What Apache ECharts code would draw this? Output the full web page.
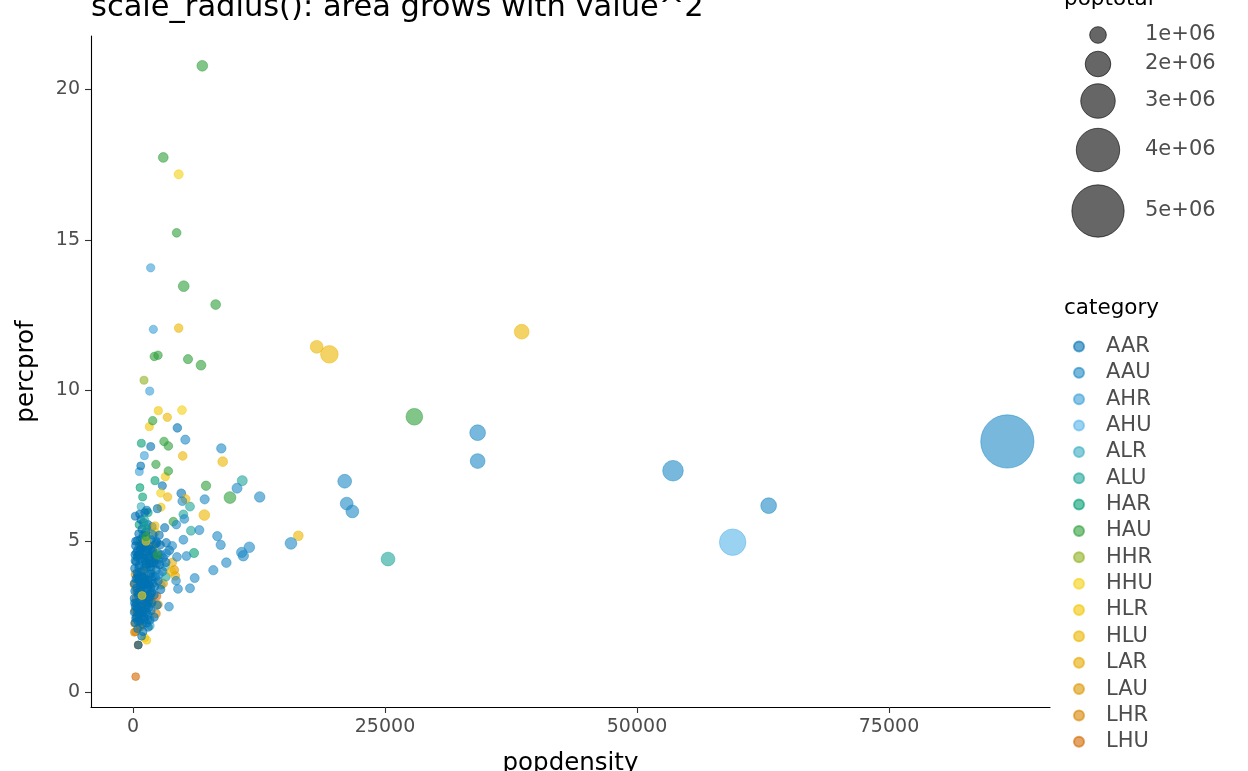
<!DOCTYPE html>
<html>
<head>
<meta charset="utf-8">
<script src="https://cdn.jsdelivr.net/npm/echarts@6/dist/echarts.min.js"></script>
<style>html,body{margin:0;padding:0;background:#fff;}#c{width:1248px;height:771px;}</style>
</head>
<body>
<div id="c"></div>
<script>
// ---- data: [popdensity, percprof, poptotal] ----
const categories = ['AAR','AAU','AHR','AHU','ALR','ALU','HAR','HAU','HHR','HHU','HLR','HLU','LAR','LAU','LHR','LHU'];
const palette = ['#0072B2','#1D88C4','#399ED7','#56B4E9','#39ADC2','#1DA59A','#009E73','#2F9E3A','#8FB020','#F4D010','#F2C400','#EDB500','#E6A800','#DC9600','#D88400','#D26800'];

const AAR = [
 [764,7.50,20000],[1756,8.14,30000],[2910,6.84,50000],[4790,6.59,120000],[4400,8.76,90000],
 [232,5.83,30000],[1356,6.03,25000],[2414,6.08,40000],[1160,5.95,22000],[650,5.90,18000],
 [1050,5.62,28000],[1480,5.55,35000],[880,5.40,21000],[1900,5.48,33000],[3144,5.45,60000],[560,5.25,16000],[1250,5.30,24000],[2600,5.20,45000],[780,5.72,19000],
 [420,5.02,20000],[900,5.10,26000],[1350,4.98,30000],[1800,5.05,42000],[2250,4.92,55000],[650,4.85,17000],[1100,4.90,23000],[1600,4.83,31000],[2700,4.88,70000],[3300,4.95,90000],[250,5.00,15000],[2000,5.20,38000],
 [180,4.55,14000],[450,4.70,18000],[700,4.40,20000],[950,4.62,22000],[1200,4.35,25000],[1450,4.75,27000],[1700,4.50,33000],[1950,4.68,36000],[2200,4.42,48000],[2500,4.60,52000],[3000,4.45,75000],[3600,4.70,120000],[300,4.32,15000],[820,4.78,19000],[1330,4.52,26000],[2100,4.30,40000],
 [150,4.10,13000],[380,3.95,16000],[600,4.20,18000],[850,3.85,21000],[1050,4.05,23000],[1300,4.25,26000],[1550,3.90,29000],[1750,4.15,32000],[2000,3.82,37000],[2300,4.05,46000],[2650,4.22,58000],[500,3.88,17000],[1150,3.80,24000],[1900,4.28,35000],[2950,4.00,80000],
 [120,3.60,12000],[350,3.45,15000],[560,3.72,17000],[780,3.35,19000],[1000,3.55,22000],[1230,3.75,25000],[1420,3.40,27000],[1650,3.62,30000],[1880,3.30,34000],[2150,3.50,42000],[2500,3.68,55000],[420,3.78,16000],[900,3.50,20000],[1320,3.58,26000],[1750,3.45,31000],[2750,3.40,62000],
 [100,3.10,11000],[300,2.95,14000],[520,3.20,16000],[740,2.85,18000],[960,3.05,21000],[1180,3.25,24000],[1400,2.90,26000],[1620,3.15,29000],[1850,2.95,33000],[2100,3.22,40000],[660,3.00,17000],[1300,3.10,25000],[2400,2.88,50000],
 [110,2.65,11000],[330,2.50,14000],[550,2.75,16000],[780,2.45,18000],[1000,2.62,21000],[1250,2.78,24000],[1500,2.55,27000],[1800,2.70,32000],[2100,2.48,38000],[420,2.70,15000],
 [200,2.30,12000],[450,2.10,15000],[700,2.35,17000],[1000,2.00,20000],[1350,2.28,25000],[1690,2.39,30000],[1520,2.15,28000],[850,1.85,18000],[526,1.56,14000],
 [240,4.85,14000],[160,3.35,12000],[210,2.85,13000],[620,4.55,18000],[1080,4.45,23000],[1620,4.25,30000],[820,3.65,19000],[1480,3.70,28000],[680,2.62,17000],[1120,2.40,24000],
 [330,4.62,15000],[560,4.12,17000],[760,3.98,19000],[980,3.78,21000],[1220,3.62,24000],[1380,4.15,26000],[1580,3.55,29000],[1820,3.92,33000],[2050,4.55,38000],[2350,4.25,47000],
 [280,3.75,14000],[470,3.30,16000],[690,3.55,18000],[910,3.22,20000],[1130,2.95,23000],[1360,3.40,26000],[1560,3.00,28000],[1760,3.25,31000],[1980,3.60,36000],[2250,3.80,44000],
 [190,4.35,13000],[390,4.48,16000],[720,4.70,19000],[1020,4.80,22000],[1270,4.65,25000],[1550,4.45,29000],[1780,4.72,32000],[2400,4.95,50000],[2800,4.55,65000],[3250,4.30,85000],
 [140,2.95,12000],[360,2.80,15000],[600,2.55,17000],[870,2.70,20000],[1100,2.50,23000],[1330,2.65,25000],[1580,2.80,29000],[250,2.45,13000],[480,2.35,15000],[930,2.25,20000]
];
const AAU = [
 [5190,8.37,150000],[8760,8.08,180000],[8360,5.17,160000],[8700,4.88,170000],[10320,6.76,250000],[12570,6.47,300000],
 [10780,4.63,280000],[10940,4.52,300000],[11540,4.80,320000],[9260,4.29,200000],[7970,4.04,170000],[6120,3.78,140000],
 [5655,3.44,130000],[4270,3.69,110000],[4465,3.42,120000],[3571,2.83,100000],[6580,5.37,150000],[7110,6.39,160000],
 [4893,6.33,120000],[5093,5.74,120000],[4300,5.55,100000],[3300,4.60,90000],[5300,4.51,120000],[4360,4.48,110000],
 [3900,4.85,95000],[2600,3.90,70000],[5000,5.05,120000],
 [15670,4.93,440000],[21000,6.99,670000],[21200,6.25,560000],[21760,5.99,560000],[34190,8.60,890000],[34190,7.66,780000],
 [53570,7.34,1440000],[63060,6.18,890000],[86740,8.31,5105067]
];
const AHR = [[1754,14.07,60000],[2017,12.03,50000],[1657,9.98,40000],[1125,7.84,30000],[625,7.31,25000],[1200,4.80,30000],[800,3.60,25000],[2300,5.00,40000],[500,2.90,20000],[1500,2.40,30000]];
const AHU = [[59490,4.97,2100000]];
const ALR = [[794,6.15,20000],[1300,5.30,25000],[900,4.35,22000],[1800,4.05,30000],[600,3.70,18000],[2200,3.85,40000],[1100,3.20,24000],[1500,2.95,28000],[2500,4.40,45000],[400,2.60,15000],[1700,2.20,28000],[1900,4.75,32000],[700,5.05,20000],[2800,3.55,55000],[1000,2.70,22000],[3200,4.15,70000]];
const ALU = [[25300,4.41,670000],[10840,7.01,250000],[5655,6.15,130000],[4993,5.89,120000],[5754,5.35,140000],[3270,3.82,90000],[1160,5.70,30000],[1220,5.48,30000]];
const HAR = [[827,8.25,25000],[2182,7.01,40000],[690,6.78,20000],[956,6.47,25000],[600,5.55,22000],[1000,5.20,24000],[500,4.55,18000],[526,3.82,18000],[800,4.90,20000],[1500,5.95,30000],[6050,4.61,160000],[1300,4.20,25000],[700,3.40,20000]];
const HAU = [[6875,20.77,330000],[3006,17.73,220000],[4330,15.23,100000],[5030,13.46,330000],[8200,12.85,220000],[2113,11.13,80000],[2480,11.17,80000],[5456,11.04,150000],[6746,10.84,220000],[1954,9.00,80000],[3075,8.31,90000],[3505,8.16,100000],[2272,7.55,70000],[3505,7.33,90000],[7242,6.84,180000],[9620,6.45,450000],[4000,5.65,100000],[27910,9.13,1000000],[1300,5.15,30000],[2400,4.55,50000]];
const HHR = [[1091,10.34,30000],[1400,5.40,30000],[900,4.95,25000],[1700,3.10,30000],[600,2.55,18000],[1100,3.70,25000],[2000,4.40,35000],[700,2.15,18000]];
const HHU = [[4530,17.17,150000],[4860,9.35,120000],[2748,6.60,50000],[1300,5.00,30000],[900,3.20,20000]];
const HLR = [[1620,8.80,30000],[3206,7.14,60000],[2510,9.33,45000],[2778,6.13,50000],[1800,4.45,30000],[1000,2.85,20000],[1360,1.72,25000],[1150,1.80,24000],[600,2.45,18000],[2200,5.30,40000]];
const HLU = [[4530,12.07,100000],[4930,7.83,110000],[8900,7.64,220000],[7077,5.87,330000],[5218,6.40,120000],[2182,5.51,40000],[3442,6.47,70000],[16400,5.18,220000],[3403,9.11,70000],[3800,4.00,100000],[18220,11.45,560000],[19480,11.20,1100000],[38560,11.95,780000]];
const LAR = [[3900,4.30,110000],[4200,3.85,100000],[2100,4.85,40000],[1000,4.00,22000]];
const LAU = [[3000,3.60,80000],[2500,2.90,60000],[4100,4.05,100000]];
const LHR = [[90,3.57,8000],[150,2.28,9000],[250,2.00,10000],[180,2.70,9000],[300,3.10,11000],[130,1.98,8000],[500,1.56,12000],[200,3.90,10000],[400,2.45,12000],[350,3.35,11000],[1900,3.00,30000],[2300,2.60,45000],[700,2.20,15000]];
const LHU = [[265,0.51,10000],[526,1.56,14000],[2350,3.18,45000]];

const xTicks = [0, 25000, 50000, 75000];
const yTicks = [0, 5, 10, 15, 20];
const sizeBreaks = [1000000, 2000000, 3000000, 4000000, 5000000];
const sizeLabels = ['1e+06', '2e+06', '3e+06', '4e+06', '5e+06'];

const dataByCat = {AAR,AAU,AHR,AHU,ALR,ALU,HAR,HAU,HHR,HHU,HLR,HLU,LAR,LAU,LHR,LHU};

// ---- styling / layout ----
const FONT = 'DejaVu Sans';
function sizeOf(pop){ return 7.8 + 8.9e-6 * pop; }
function rgba(hex, a){
  const n = parseInt(hex.slice(1), 16);
  return 'rgba(' + ((n>>16)&255) + ',' + ((n>>8)&255) + ',' + (n&255) + ',' + a + ')';
}
const sizeKeyY = [35, 64, 101, 150, 211];
const sizeKeyX = 1098;
// drawing order: rural dark-blue counties drawn over most others, as in the reference core
const drawOrder = ['AHR','ALR','HAR','HHR','HLR','LAR','LAU','LHR','LHU','AAR','ALU','HHU','HLU','HAU','AAU','AHU'];

const series = drawOrder.map(c => {
  const i = categories.indexOf(c);
  return {
    name: c,
    type: 'scatter',
    data: dataByCat[c],
    symbol: 'circle',
    symbolSize: v => sizeOf(v[2]),
    itemStyle: { color: rgba(palette[i], 0.6), borderColor: rgba(palette[i], 0.6), borderWidth: 0.8, opacity: 1 },
    emphasis: { disabled: true }
  };
});

const graphics = [];
sizeBreaks.forEach((v, i) => {
  graphics.push({
    type: 'circle', shape: { cx: sizeKeyX, cy: sizeKeyY[i], r: sizeOf(v) / 2 },
    style: { fill: 'rgba(0,0,0,0.6)', stroke: 'rgba(0,0,0,0.6)', lineWidth: 1 }
  });
  graphics.push({
    type: 'text', x: 1145, y: sizeKeyY[i],
    style: { text: sizeLabels[i], font: '21px "' + FONT + '"', fill: '#4d4d4d', verticalAlign: 'middle', align: 'left' }
  });
});

const chart = echarts.init(document.getElementById('c'), null, { renderer: 'canvas' });
chart.setOption({
  animation: false,
  backgroundColor: '#fff',
  textStyle: { fontFamily: FONT },
  title: [
    { text: 'scale_radius(): area grows with value^2', left: 91, top: -7, padding: 0,
      textStyle: { fontSize: 30.5, fontWeight: 'normal', color: '#000', fontFamily: FONT } },
    { text: 'poptotal', left: 1064, top: -12, padding: 0,
      textStyle: { fontSize: 21.5, fontWeight: 'normal', color: '#000', fontFamily: FONT } },
    { text: 'category', left: 1064, top: 297, padding: 0,
      textStyle: { fontSize: 21.5, fontWeight: 'normal', color: '#000', fontFamily: FONT } }
  ],
  grid: { left: 91, right: 198, top: 36, bottom: 64, containLabel: false, outerBoundsMode: 'none' },
  legend: {
    data: categories.map(c => ({ name: c, icon: 'circle' })),
    orient: 'vertical', left: 1073, top: 336, padding: 0,
    itemWidth: 10, itemHeight: 10, itemGap: 5.35,
    selectedMode: false,
    textStyle: { fontSize: 21, color: '#4d4d4d', fontFamily: FONT, lineHeight: 20, padding: [0, 0, 0, 17] }
  },
  xAxis: {
    type: 'value', min: -4167, max: 90972,
    name: 'popdensity', nameLocation: 'middle', nameGap: 44,
    nameTextStyle: { fontSize: 24.5, color: '#000', fontFamily: FONT, verticalAlign: 'top' },
    splitLine: { show: false },
    axisLine: { show: true, onZero: false, lineStyle: { color: '#000', width: 1.1 } },
    axisTick: { show: true, length: 6, customValues: xTicks, lineStyle: { color: '#333', width: 1.1 } },
    axisLabel: { customValues: xTicks, fontSize: 19, color: '#4d4d4d', margin: 11, fontFamily: FONT, formatter: v => String(v) }
  },
  yAxis: {
    type: 'value', min: -0.4975, max: 21.758,
    name: 'percprof', nameLocation: 'middle', nameGap: 52, nameRotate: 90,
    nameTextStyle: { fontSize: 24.5, color: '#000', fontFamily: FONT },
    splitLine: { show: false },
    axisLine: { show: true, onZero: false, lineStyle: { color: '#000', width: 1.1 } },
    axisTick: { show: true, length: 6, customValues: yTicks, lineStyle: { color: '#333', width: 1.1 } },
    axisLabel: { customValues: yTicks, fontSize: 19, color: '#4d4d4d', margin: 11, fontFamily: FONT, formatter: v => String(v) }
  },
  graphic: graphics,
  series: series
});
</script>
</body>
</html>
